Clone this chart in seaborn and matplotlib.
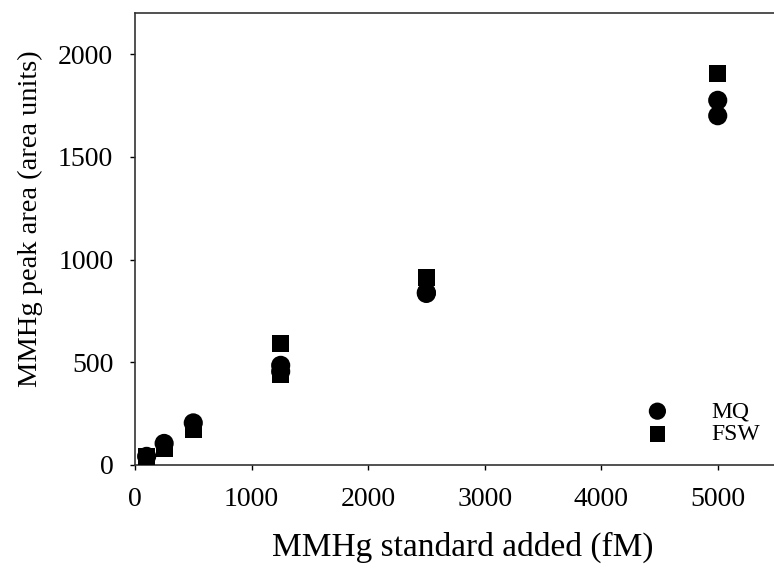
import matplotlib
matplotlib.use("Agg")
import matplotlib.pyplot as plt
import seaborn as sns
import pandas as pd

conc_mq = [100, 250, 500, 1250, 1250, 2500, 2500, 5000, 5000]
area_mq = [42, 105, 205, 485, 455, 840, 835, 1775, 1700]
conc_fsw = [100, 250, 500, 1250, 1250, 2500, 5000]
area_fsw = [40, 80, 175, 590, 440, 915, 1905]

sns.set_style("ticks")
plt.rcParams['font.family'] = ['Liberation Serif', 'DejaVu Serif']
plt.rcParams['text.color'] = 'black'

fig = plt.figure(figsize=(7.74, 5.77), dpi=100)
ax = fig.add_axes([135/774, 1 - 465/577, (776 - 135)/774, (465 - 13)/577])

df_mq = pd.DataFrame({"x": conc_mq, "y": area_mq})
df_fsw = pd.DataFrame({"x": conc_fsw, "y": area_fsw})
sns.scatterplot(data=df_fsw, x="x", y="y", marker="s", s=150, color="black",
                edgecolor="none", linewidth=0, ax=ax, label="FSW", zorder=3)
sns.scatterplot(data=df_mq, x="x", y="y", marker="o", s=190, color="black",
                edgecolor="none", linewidth=0, ax=ax, label="MQ", zorder=4)

ax.set_xlim(0, 5500)
ax.set_ylim(0, 2200)
ax.set_xticks([0, 1000, 2000, 3000, 4000, 5000])
ax.set_yticks([0, 500, 1000, 1500, 2000])
ax.tick_params(direction="out", length=3.6, width=1, labelsize=20, colors="black", pad=12)
ax.set_xlabel("MMHg standard added (fM)", fontsize=24, labelpad=14.5, color="black")
ax.xaxis.label.set_x(0.511)
ax.set_ylabel("MMHg peak area (area units)", fontsize=20.5, color="black")
ax.yaxis.set_label_coords(-0.1435, 0.546)
for side in ["left", "bottom", "top"]:
    ax.spines[side].set_visible(True)
    ax.spines[side].set_color("#333333")
    ax.spines[side].set_linewidth(1.2)
ax.spines["right"].set_visible(False)

h, l = ax.get_legend_handles_labels()
order = [l.index("MQ"), l.index("FSW")]
leg = ax.legend([h[i] for i in order], [l[i] for i in order], frameon=False,
                fontsize=17, loc="center left", bbox_to_anchor=(0.745, 0.093),
                handletextpad=1.28, labelspacing=0.05, markerscale=0.9,
                handlelength=2.0)

fig.savefig("out.png", dpi=100)
